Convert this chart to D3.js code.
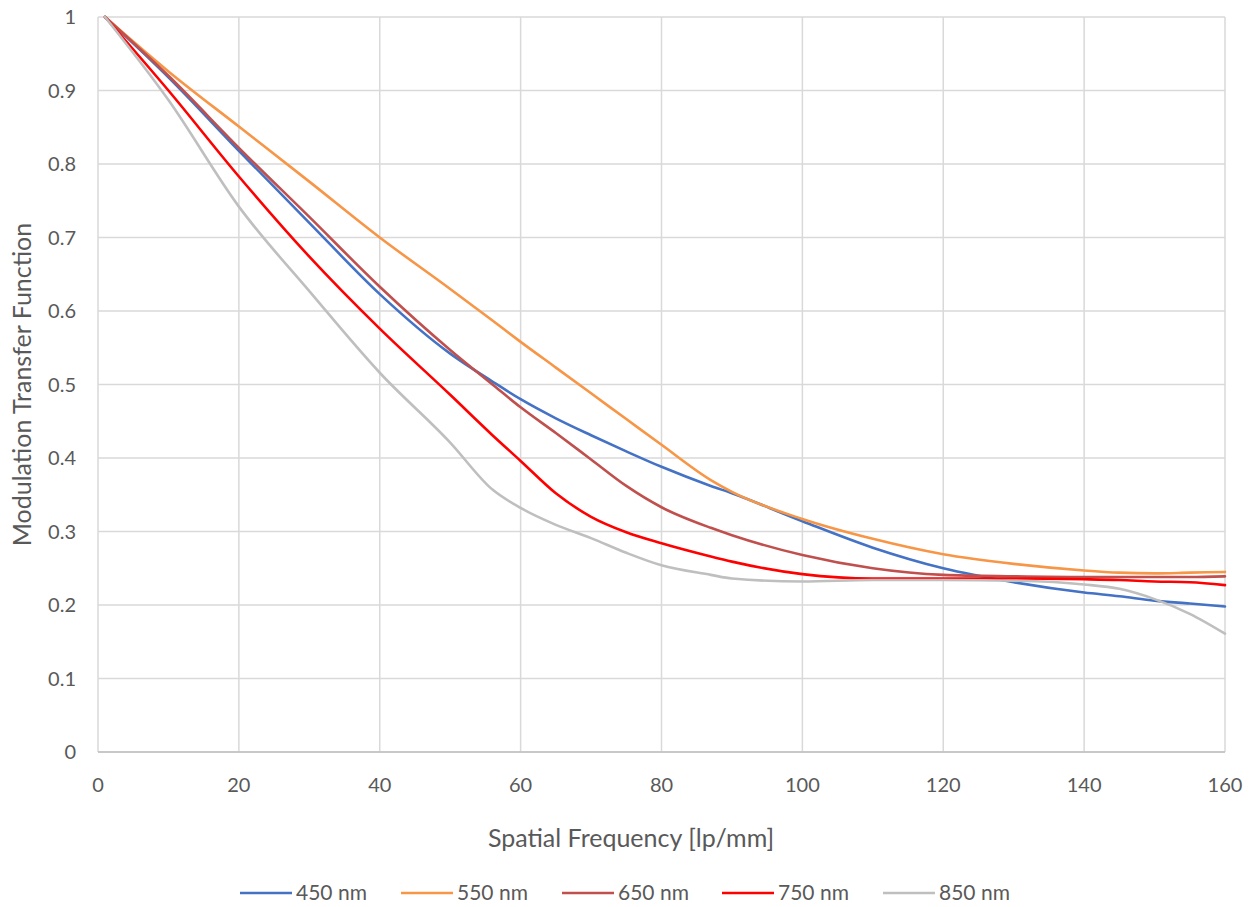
<!DOCTYPE html>
<html>
<head>
<meta charset="utf-8">
<script src="https://cdn.jsdelivr.net/npm/d3@7"></script>
<style>
  html, body { margin: 0; padding: 0; background: #fff; }
  text { font-family: "Lato", "Open Sans", sans-serif; fill: #595959; }
</style>
</head>
<body>
<svg id="chart" width="1255" height="907"></svg>
<script>
const freq = [1, 10, 20, 30, 40, 50, 56, 60, 65, 70, 75, 80, 87, 90, 100, 110, 120, 130, 140, 145, 150, 155, 160];
const nm450 = [1.0, 0.918, 0.818, 0.720, 0.623, 0.542, 0.504, 0.480, 0.454, 0.431, 0.409, 0.388, 0.362, 0.352, 0.314, 0.278, 0.250, 0.231, 0.217, 0.212, 0.206, 0.202, 0.198];
const nm550 = [1.0, 0.926, 0.851, 0.776, 0.700, 0.630, 0.587, 0.558, 0.523, 0.488, 0.453, 0.418, 0.370, 0.354, 0.317, 0.290, 0.269, 0.256, 0.247, 0.244, 0.243, 0.244, 0.245];
const nm650 = [1.0, 0.920, 0.822, 0.728, 0.633, 0.547, 0.500, 0.469, 0.434, 0.398, 0.362, 0.333, 0.305, 0.295, 0.268, 0.250, 0.241, 0.239, 0.238, 0.238, 0.238, 0.238, 0.239];
const nm750 = [1.0, 0.900, 0.783, 0.674, 0.576, 0.486, 0.431, 0.396, 0.352, 0.320, 0.299, 0.284, 0.266, 0.259, 0.242, 0.236, 0.236, 0.236, 0.235, 0.234, 0.232, 0.231, 0.227];
const nm850 = [1.0, 0.887, 0.742, 0.627, 0.516, 0.421, 0.357, 0.332, 0.309, 0.291, 0.271, 0.254, 0.241, 0.236, 0.232, 0.234, 0.234, 0.233, 0.228, 0.222, 0.208, 0.188, 0.161];
const seriesNames = ["450 nm", "550 nm", "650 nm", "750 nm", "850 nm"];
const seriesColors = ["#4472C4", "#F79646", "#C0504D", "#FF0000", "#BFBFBF"];
const xTicks = [0, 20, 40, 60, 80, 100, 120, 140, 160];
const yTicks = [0, 0.1, 0.2, 0.3, 0.4, 0.5, 0.6, 0.7, 0.8, 0.9, 1];
const xTitle = "Spatial Frequency [lp/mm]";
const yTitle = "Modulation Transfer Function";

const allSeries = [nm450, nm550, nm650, nm750, nm850];
const svg = d3.select("#chart");
const L = 98, R = 1225, T = 17, B = 752;
const x = d3.scaleLinear().domain([0, 160]).range([L, R]);
const y = d3.scaleLinear().domain([0, 1]).range([B, T]);

// gridlines
svg.append("g").selectAll("line.h").data(yTicks).join("line")
  .attr("x1", L).attr("x2", R).attr("y1", d => y(d)).attr("y2", d => y(d))
  .attr("stroke", "#d9d9d9").attr("stroke-width", 1.5);
svg.append("g").selectAll("line.v").data(xTicks).join("line")
  .attr("y1", T).attr("y2", B).attr("x1", d => x(d)).attr("x2", d => x(d))
  .attr("stroke", "#d9d9d9").attr("stroke-width", 1.5);
// x axis line
svg.append("line").attr("x1", L).attr("x2", R).attr("y1", y(0)).attr("y2", y(0))
  .attr("stroke", "#bfbfbf").attr("stroke-width", 1.5);

// tick labels
svg.append("g").selectAll("text").data(yTicks).join("text")
  .attr("x", 76).attr("y", d => y(d)).attr("dy", "0.35em")
  .attr("text-anchor", "end").attr("font-size", 20)
  .text(d => d3.format("~g")(d));
svg.append("g").selectAll("text").data(xTicks).join("text")
  .attr("x", d => x(d)).attr("y", 792)
  .attr("text-anchor", "middle").attr("font-size", 20)
  .text(d => d);

// titles
svg.append("text").attr("x", 631).attr("y", 847).attr("text-anchor", "middle")
  .attr("font-size", 25).text(xTitle);
svg.append("text").attr("transform", `translate(31,${(T + B) / 2}) rotate(-90)`)
  .attr("text-anchor", "middle").attr("font-size", 25).text(yTitle);

// lines
const line = d3.line().x((d, i) => x(freq[i])).y(d => y(d)).curve(d3.curveMonotoneX);
svg.append("g").selectAll("path").data(allSeries).join("path")
  .attr("d", d => line(d))
  .attr("fill", "none")
  .attr("stroke", (d, i) => seriesColors[i])
  .attr("stroke-width", 2.6)
  .attr("stroke-linejoin", "round").attr("stroke-linecap", "round");

// legend
const legX = [240, 401, 562, 722, 883];
const leg = svg.append("g").selectAll("g").data(seriesNames).join("g")
  .attr("transform", (d, i) => `translate(${legX[i]},893)`);
leg.append("line").attr("x1", 0).attr("x2", 52).attr("y1", 0).attr("y2", 0)
  .attr("stroke", (d, i) => seriesColors[i]).attr("stroke-width", 2.6);
leg.append("text").attr("x", 56).attr("dy", "0.35em").attr("font-size", 21).text(d => d);
</script>
</body>
</html>
